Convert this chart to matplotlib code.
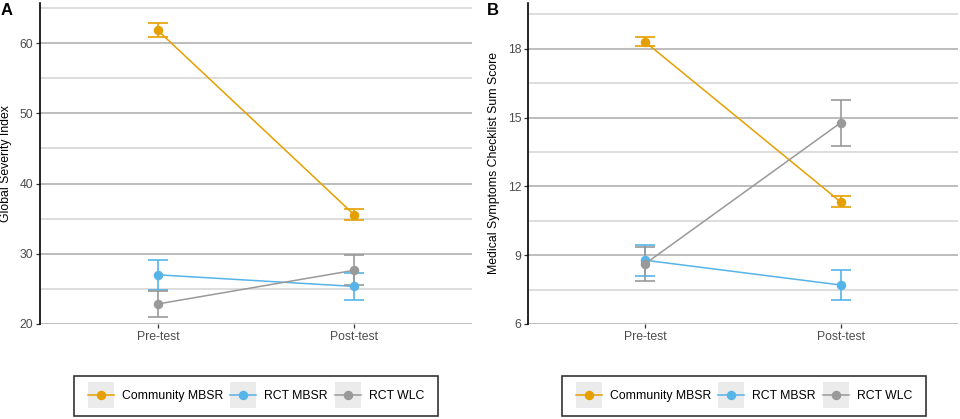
import matplotlib

matplotlib.use("Agg")
import matplotlib.pyplot as plt
from matplotlib.legend_handler import HandlerPatch, HandlerTuple
from matplotlib.lines import Line2D
from matplotlib.patches import Rectangle
from matplotlib.ticker import MultipleLocator

plt.rcParams["font.family"] = ["Liberation Sans", "DejaVu Sans"]

times = ["Pre-test", "Post-test"]
groups = ["Community MBSR", "RCT MBSR", "RCT WLC"]
colors = ["#E69F00", "#56B4E9", "#999999"]

# Global Severity Index: mean and 95% CI per group (pre, post)
gsi_mean = [[61.8, 35.55], [27.0, 25.35], [22.85, 27.65]]
gsi_lower = [[60.8, 34.75], [24.9, 23.4], [21.0, 25.5]]
gsi_upper = [[62.8, 36.4], [29.15, 27.25], [24.65, 29.8]]

# Medical Symptoms Checklist sum score
msc_mean = [[18.3, 11.32], [8.78, 7.7], [8.63, 14.78]]
msc_lower = [[18.12, 11.1], [8.11, 7.05], [7.89, 13.77]]
msc_upper = [[18.5, 11.57], [9.44, 8.35], [9.35, 15.78]]

FS = 8.8
W, H = 960, 419


def draw_panel(ax, mean, lower, upper, ylim, major, ylabel, label_x):
    x = range(len(times))
    for m, lo, hi, c in zip(mean, lower, upper, colors):
        ax.plot(x, m, color=c, lw=1.1, zorder=3)
        err = [[mi - l for mi, l in zip(m, lo)], [h - mi for mi, h in zip(m, hi)]]
        ax.errorbar(x, m, yerr=err, fmt="o", color=c, ms=5.8, elinewidth=1.2,
                    capsize=7, capthick=1.2, zorder=4)
    ax.set_xlim(-0.6, 1.6)
    ax.set_ylim(*ylim)
    ax.set_xticks(list(x), times)
    ax.yaxis.set_major_locator(MultipleLocator(major))
    ax.yaxis.set_minor_locator(MultipleLocator(major / 2))
    ax.grid(axis="y", which="major", color="#ababab", lw=1.1, zorder=0)
    ax.grid(axis="y", which="minor", color="#d3d3d3", lw=1.1, zorder=0)
    ax.tick_params(axis="y", which="minor", length=0)
    ax.tick_params(which="major", length=2.75, width=0.9, color="#333333",
                   labelcolor="#4d4d4d", labelsize=FS, pad=2)
    for s in ("top", "right", "bottom"):
        ax.spines[s].set_visible(False)
    ax.spines["left"].set_linewidth(1.2)
    ax.set_ylabel(ylabel, fontsize=FS)
    ax.yaxis.set_label_coords(label_x, 0.5)
    ax.set_axisbelow(True)


def key_rect(legend, orig_handle, xdescent, ydescent, width, height, fontsize):
    # square grey key background centred on the legend line
    side = 2.13 * fontsize
    cy = (height - ydescent) / 2
    return Rectangle((-xdescent, cy - side / 2), width, side)


fig = plt.figure(figsize=(W / 100, H / 100), dpi=100)
bottom = 1 - 324 / H
height = (324 - 3) / H
ax_a = fig.add_axes([40 / W, bottom, 432 / W, height])
ax_b = fig.add_axes([528 / W, bottom, 430 / W, height])

draw_panel(ax_a, gsi_mean, gsi_lower, gsi_upper, (20, 65.7), 10,
           "Global Severity Index", -0.064)
draw_panel(ax_b, msc_mean, msc_lower, msc_upper, (6, 20.0), 3,
           "Medical Symptoms Checklist Sum Score", -0.066)

fig.text(1 / W, 1 - 3 / H, "A", fontsize=12, fontweight="bold", va="top")
fig.text(487 / W, 1 - 3 / H, "B", fontsize=12, fontweight="bold", va="top")

handles = [
    (Rectangle((0, 0), 1, 1, facecolor="#ebebeb", edgecolor="none"),
     Line2D([], [], color=c, lw=1.1, marker="o", ms=5.8))
    for c in colors
]
for cx in (256, 744):
    leg = fig.legend(handles, groups, loc="center", bbox_to_anchor=(cx / W, 1 - 396 / H),
                     ncol=3, fontsize=FS, frameon=True, fancybox=False,
                     edgecolor="black", borderpad=1.12, handlelength=2.15,
                     handleheight=0.7, handletextpad=0.65, columnspacing=0.55,
                     borderaxespad=0,
                     handler_map={tuple: HandlerTuple(ndivide=1, pad=0),
                                  Rectangle: HandlerPatch(patch_func=key_rect)})
    leg.get_frame().set_linewidth(1.2)

fig.savefig("out.png", dpi=100)
